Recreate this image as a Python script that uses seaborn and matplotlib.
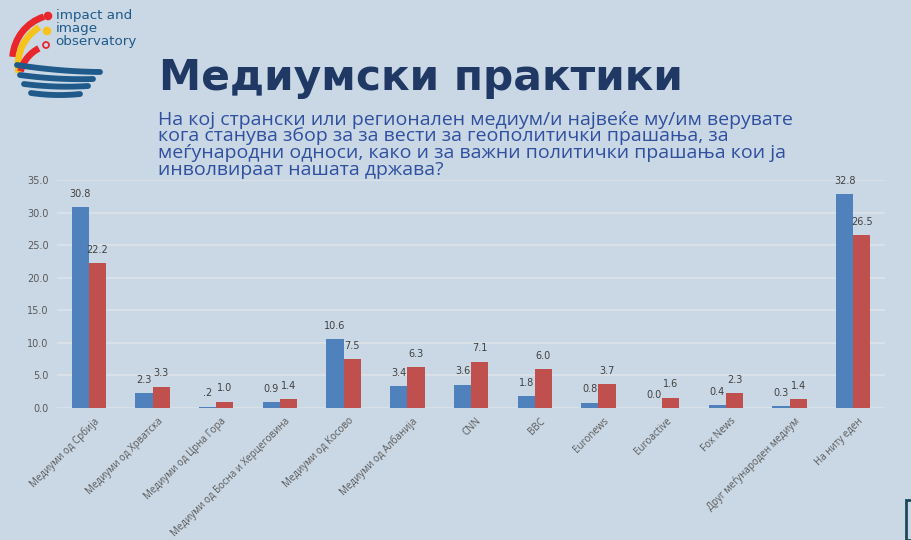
import numpy as np
import pandas as pd
import matplotlib
matplotlib.use("Agg")
import matplotlib.pyplot as plt
import matplotlib.transforms as mtransforms
import seaborn as sns
from matplotlib.patches import Arc, Circle, Rectangle

categories = ["Медиуми од Србија", "Медиуми од Хрватска", "Медиуми од Црна Гора",
              "Медиуми од Босна и Херцеговина", "Медиуми од Косово", "Медиуми од Албанија",
              "CNN", "BBC", "Euronews", "Euroactive", "Fox News",
              "Друг меѓународен медиум", "На ниту еден"]
series_names = ["Серија 1", "Серија 2"]
values_1 = [30.8, 2.3, 0.2, 0.9, 10.6, 3.4, 3.6, 1.8, 0.8, 0.0, 0.4, 0.3, 32.8]
values_2 = [22.2, 3.3, 1.0, 1.4, 7.5, 6.3, 7.1, 6.0, 3.7, 1.6, 2.3, 1.4, 26.5]
labels_1 = ["30.8", "2.3", ".2", "0.9", "10.6", "3.4", "3.6", "1.8", "0.8", "0.0", "0.4", "0.3", "32.8"]
y_ticks = [0, 5, 10, 15, 20, 25, 30, 35]

title = "Медиумски практики"
subtitle = ("На кој странски или регионален медиум/и највеќе му/им верувате\n"
            "кога станува збор за за вести за геополитички прашања, за\n"
            "меѓународни односи, како и за важни политички прашања кои ја\n"
            "инволвираат нашата држава?")
logo_text = "impact and\nimage\nobservatory"

BG = "#cad8e5"
BLUE = "#4f81bd"
RED = "#c0504d"
LOGO_BLUE = "#1f5a8a"
LOGO_RED = "#e8262c"
LOGO_YELLOW = "#f6c21c"

sns.set_theme(style="white")
plt.rcParams["font.family"] = ["DejaVu Sans"]

df = pd.DataFrame({
    "cat": categories * 2,
    "val": values_1 + values_2,
    "series": [series_names[0]] * len(categories) + [series_names[1]] * len(categories),
})

fig = plt.figure(figsize=(9.11, 5.40), dpi=100)
fig.patch.set_facecolor(BG)
ax = fig.add_axes([0.0626, 0.2444, 0.909, 0.4223])
ax.set_facecolor(BG)

sns.barplot(data=df, x="cat", y="val", hue="series", palette=[BLUE, RED],
            width=0.54, ax=ax, legend=False, saturation=1, errorbar=None,
            linewidth=0, edgecolor="none")

ax.set_ylim(0, 35)
ax.set_xlim(-0.5, len(categories) - 0.5)
ax.set_yticks(y_ticks)
ax.set_yticklabels([f"{t:.1f}" for t in y_ticks])
ax.yaxis.grid(True, color="#dde2e8", linewidth=1.2)
ax.set_axisbelow(True)
for s in ax.spines.values():
    s.set_visible(False)
ax.set_xlabel("")
ax.set_ylabel("")
ax.tick_params(axis="y", length=0, labelsize=7, labelcolor="#595959", pad=6)
ax.tick_params(axis="x", length=0, labelsize=7, labelcolor="#595959", pad=4)
offset = mtransforms.ScaledTranslation(0.045, -0.02, fig.dpi_scale_trans)
for lbl in ax.get_xticklabels():
    lbl.set_rotation(45)
    lbl.set_ha("right")
    lbl.set_rotation_mode("anchor")
    lbl.set_fontfamily("Open Sans")
    lbl.set_transform(lbl.get_transform() + offset)

ax.bar_label(ax.containers[0], labels=labels_1, padding=6, fontsize=7, color="#404040")
ax.bar_label(ax.containers[1], labels=[f"{v:.1f}" for v in values_2], padding=6,
             fontsize=7, color="#404040")

fig.text(0.175, 0.833, title, fontsize=30.5, fontweight="bold", color="#1f3864",
         va="baseline", ha="left")
fig.text(0.173, 0.795, subtitle, fontsize=14, color="#2f4f9f", va="top", ha="left",
         linespacing=0.91, fontfamily="Open Sans")

# logo (decoration)
fig.text(0.061, 0.983, logo_text, fontsize=9.7, color=LOGO_BLUE, va="top", ha="left",
         linespacing=1.0)
lax = fig.add_axes([0.0, 1 - 105 / 540, 150 / 911, 105 / 540])
lax.set_xlim(0, 150)
lax.set_ylim(0, 105)
lax.axis("off")
lax.add_patch(Arc((58, 45), 91, 91, theta1=108, theta2=176, color=LOGO_RED, linewidth=4.8))
lax.add_patch(Arc((62, 40), 88, 88, theta1=121, theta2=190, color=LOGO_YELLOW, linewidth=4.8))
lax.add_patch(Arc((55, 25), 71, 71, theta1=117, theta2=166, color=LOGO_RED, linewidth=4.8))
for (x0, y0, x1, y1) in [(17, 40, 100, 33), (20, 30, 93, 26), (24, 21, 88, 19), (31, 12, 80, 11)]:
    t = np.linspace(0, 1, 40)
    xs = x0 + (x1 - x0) * t
    ys = y0 + (y1 - y0) * t - 6 * t * (1 - t)
    lax.plot(xs, ys, color=LOGO_BLUE, linewidth=4.2, solid_capstyle="round")
lax.add_patch(Circle((48, 89), 3.6, color=LOGO_RED))
lax.add_patch(Circle((47, 74), 3.6, color=LOGO_YELLOW))
lax.add_patch(Circle((46, 60), 3.0, fill=False, edgecolor=LOGO_RED, linewidth=1.3))

fig.add_artist(Rectangle((906 / 911, 0), 0.02, 40 / 540, transform=fig.transFigure,
                         fill=False, edgecolor="#1b4a5a", linewidth=2))

fig.savefig("out.png", dpi=100, facecolor=BG)
